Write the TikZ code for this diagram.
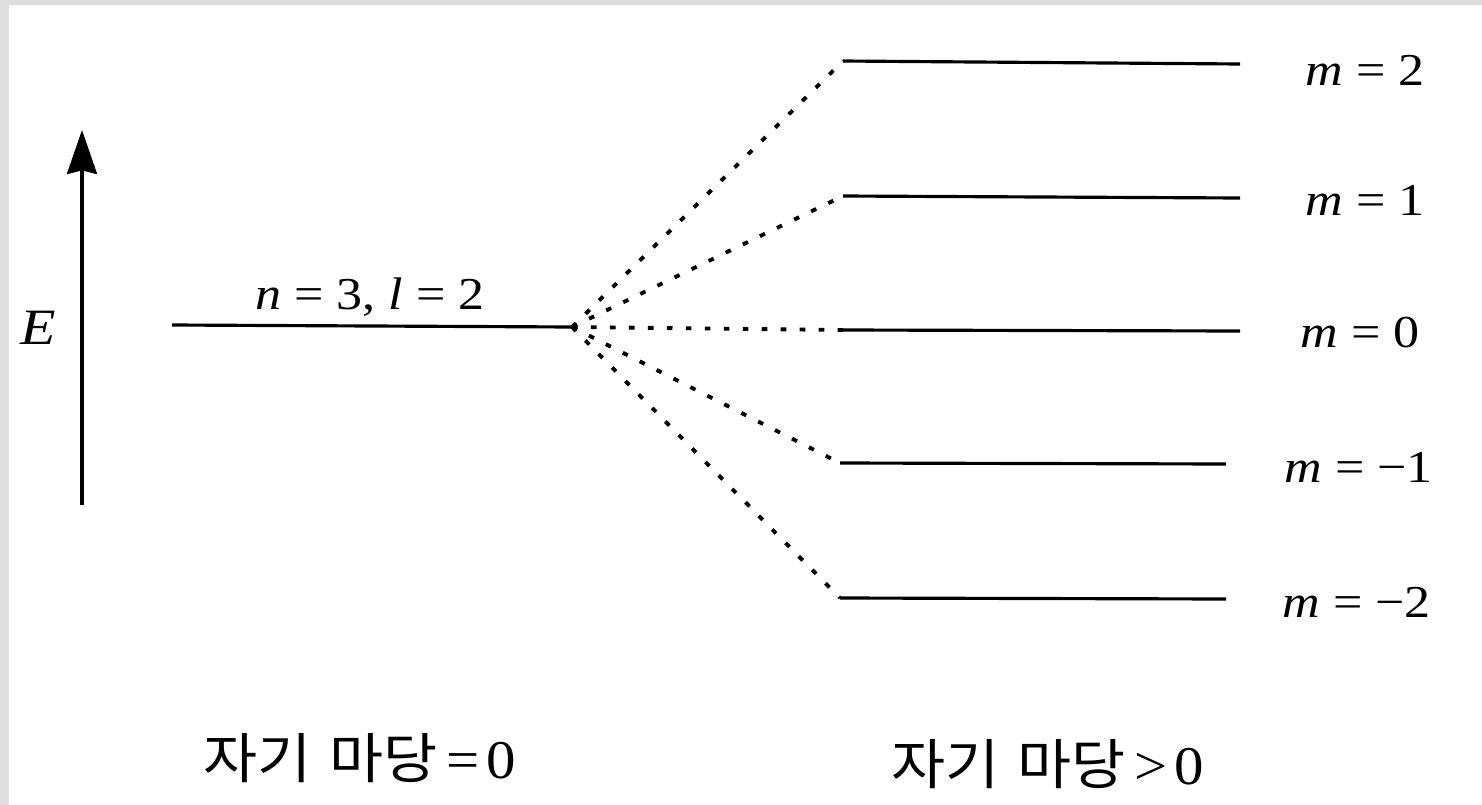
\documentclass[tikz,border=0pt]{standalone}
\usepackage{fontspec}
\setmainfont{Liberation Serif}
\newfontfamily\kr{Noto Sans CJK KR}
\usetikzlibrary{arrows.meta}

\tikzset{
  level/.style={line width=1.8pt},
  split/.style={line width=2.2pt, dash pattern=on 3.2pt off 7.6pt},
  lbl/.style={font=\fontsize{26}{30}\selectfont, inner sep=0pt, xscale=1.14},
  fld/.style={font=\fontsize{31}{36}\selectfont, inner sep=0pt, xscale=1.08}
}

\begin{document}
\begin{tikzpicture}[x=0.02cm,y=-0.02cm]
    % page frame
    \fill[black!13] (0,0) rectangle (1482,805);
    \fill[white] (9,5) rectangle (1482,805);
    \useasboundingbox (0,0) rectangle (1482,805);
    % energy axis
    \coordinate (ax-bot) at (82,505);
    \coordinate (ax-top) at (82,130);
    \draw[line width=2pt,-{Stealth[length=25pt,width=17pt,inset=2pt]}] (ax-bot) -- (ax-top);
    \node[lbl,font=\fontsize{29}{34}\selectfont] (elab) at (38,328) {\textit{E}};
    % level without field
    \coordinate (b-l) at (172,325);
    \coordinate (b-r) at (572,327);
    \draw[level] (b-l) -- (b-r);
    \node[lbl,anchor=west] (blab) at (255,297) {\textit{n} = 3, \textit{l} = 2};
    % split levels
    \coordinate (s2-l) at (843,61);    \coordinate (s2-r) at (1240,64);
    \coordinate (s1-l) at (843,196);   \coordinate (s1-r) at (1240,198);
    \coordinate (s0-l) at (843,330);   \coordinate (s0-r) at (1240,331);
    \coordinate (sm1-l) at (840,463);  \coordinate (sm1-r) at (1226,464);
    \coordinate (sm2-l) at (840,598);  \coordinate (sm2-r) at (1226,599);
    \draw[level] (s2-l) -- (s2-r);
    \draw[level] (s1-l) -- (s1-r);
    \draw[level] (s0-l) -- (s0-r);
    \draw[level] (sm1-l) -- (sm1-r);
    \draw[level] (sm2-l) -- (sm2-r);
    % dotted splitting
    \draw[split] (b-r) -- (s2-l);
    \draw[split] (b-r) -- (s1-l);
    \draw[split] (b-r) -- (s0-l);
    \draw[split] (b-r) -- (sm1-l);
    \draw[split] (b-r) -- (sm2-l);
    % m labels
    \node[lbl,anchor=west] (m2) at (1305,70) {\textit{m} = 2};
    \node[lbl,anchor=west] (m1) at (1305,200) {\textit{m} = 1};
    \node[lbl,anchor=west] (m0) at (1300,333) {\textit{m} = 0};
    \node[lbl,anchor=west] (mm1) at (1284,467) {\textit{m} = −1};
    \node[lbl,anchor=west] (mm2) at (1282,602) {\textit{m} = −2};
    % field labels
    \node[fld,anchor=west] (off) at (203,758) {{\kr 자기\hspace{0.3em}마당}\hspace{0.15em}=\hspace{0.12em}0};
    \node[fld,anchor=west] (on) at (891,764) {{\kr 자기\hspace{0.3em}마당}\hspace{0.15em}>\hspace{0.12em}0};
\end{tikzpicture}
\end{document}
